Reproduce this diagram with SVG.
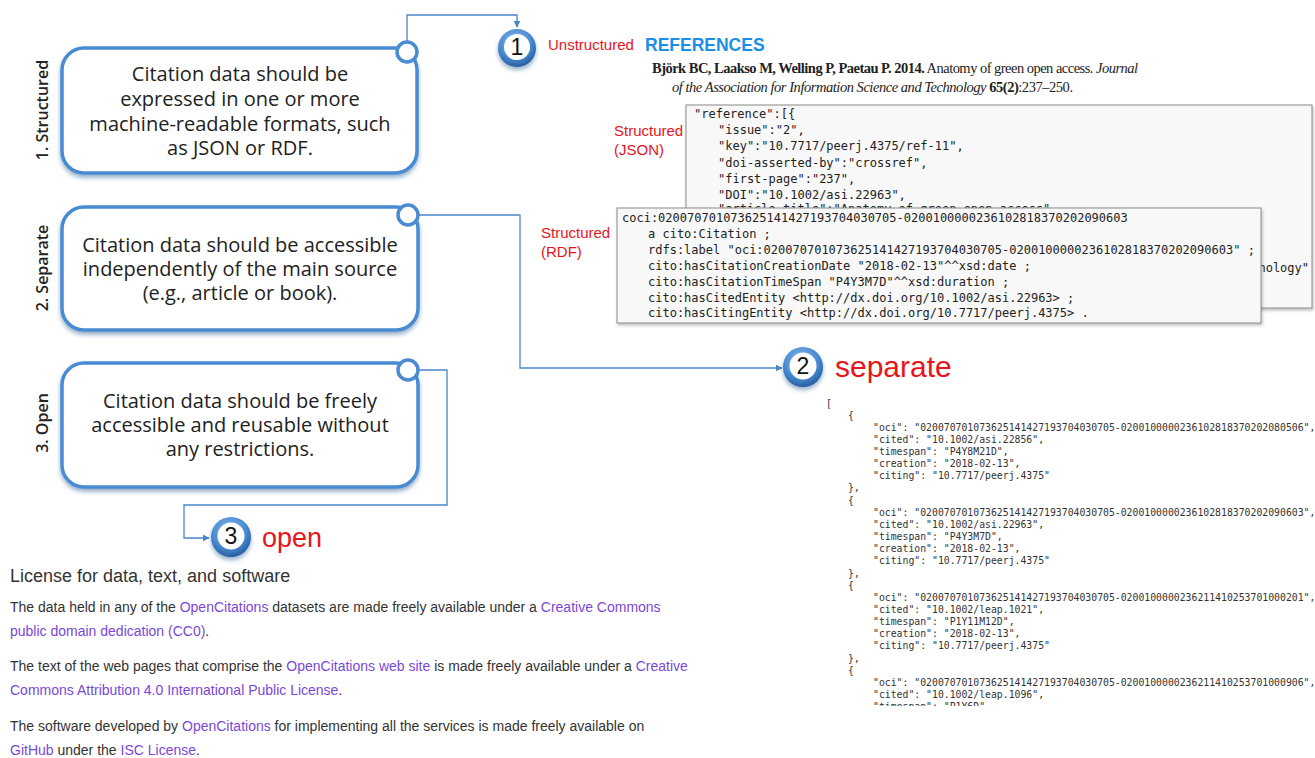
<svg xmlns="http://www.w3.org/2000/svg" width="1315" height="758" viewBox="0 0 1315 758">
<style>
.box{fill:#ffffff;stroke:#4a8bd2;stroke-width:3.5;filter:url(#sh)}
.knob{fill:#ffffff;stroke:#4a8bd2;stroke-width:3.5}
.bt{font-family:"Open Sans","Liberation Sans",sans-serif;font-size:20px;fill:#222;text-anchor:middle}
.side{font-family:"Open Sans","Liberation Sans",sans-serif;font-size:16px;font-weight:600;fill:#222;text-anchor:middle}
.con{fill:none;stroke:#4a86c8;stroke-width:1.3}
.num{font-family:"Liberation Sans",Arial,sans-serif;font-size:23px;fill:#111;text-anchor:middle}
.red{font-family:"Liberation Sans",Arial,sans-serif;fill:#e8141c}
.code{font-family:"DejaVu Sans Mono",monospace;font-size:12px;fill:#222}
.list{font-family:"DejaVu Sans Mono",monospace;font-size:9.8px;fill:#333}
.panel{fill:#f8f8f8;stroke:#8a8a8a;stroke-width:1;filter:url(#sh2)}
.p{font-family:"Liberation Sans",Arial,sans-serif;font-size:14px;fill:#333}
.lk{fill:#7a48d8}
.ser{font-family:"Liberation Serif","Times New Roman",serif;font-size:14.5px;fill:#222}
</style>
<defs>
<filter id="sh" x="-10%" y="-10%" width="120%" height="130%">
<feDropShadow dx="0" dy="3" stdDeviation="2" flood-color="#1f4f8a" flood-opacity="0.45"/>
</filter>
<filter id="sh2" x="-5%" y="-5%" width="110%" height="115%">
<feDropShadow dx="1" dy="2" stdDeviation="1.5" flood-color="#000" flood-opacity="0.25"/>
</filter>
<radialGradient id="ring" cx="0.45" cy="0.35" r="0.7">
<stop offset="0" stop-color="#8cbdf0"/>
<stop offset="0.6" stop-color="#4a8bd2"/>
<stop offset="1" stop-color="#1f5596"/>
</radialGradient>
<marker id="arr" viewBox="0 0 10 10" refX="9" refY="5" markerWidth="7" markerHeight="7" orient="auto" markerUnits="userSpaceOnUse">
<path d="M0,0 L10,5 L0,10 z" fill="#4a86c8"/>
</marker>
<clipPath id="listclip"><rect x="820" y="390" width="495" height="316"/></clipPath>
<clipPath id="titleclip"><rect x="686" y="100" width="626" height="108"/></clipPath>
</defs>

<g id="connectors">
<path class="con" d="M407,42 V15 H517 V27" marker-end="url(#arr)"/>
<path class="con" d="M418,215 H520 V368 H782" marker-end="url(#arr)"/>
<path class="con" d="M418,370 H447 V505 H184 V538 H209" marker-end="url(#arr)"/>
</g>

<g id="node-structured">
<rect class="box" x="62" y="48" width="355" height="125" rx="22"/>
<circle class="knob" cx="407" cy="52" r="10"/>
<text class="bt" x="240" y="81">Citation data should be</text>
<text class="bt" x="240" y="106">expressed in one or more</text>
<text class="bt" x="240" y="131">machine-readable formats, such</text>
<text class="bt" x="240" y="155">as JSON or RDF.</text>
<text class="side" transform="translate(42,110) rotate(-90)" dominant-baseline="central">1. Structured</text>
</g>

<g id="node-separate">
<rect class="box" x="62" y="207" width="356" height="123" rx="22"/>
<circle class="knob" cx="408" cy="215" r="10"/>
<text class="bt" x="240" y="252">Citation data should be accessible</text>
<text class="bt" x="240" y="276">independently of the main source</text>
<text class="bt" x="240" y="300">(e.g., article or book).</text>
<text class="side" transform="translate(42,268) rotate(-90)" dominant-baseline="central">2. Separate</text>
</g>

<g id="node-open">
<rect class="box" x="62" y="363" width="356" height="124" rx="22"/>
<circle class="knob" cx="408" cy="370" r="10"/>
<text class="bt" x="240" y="408">Citation data should be freely</text>
<text class="bt" x="240" y="432">accessible and reusable without</text>
<text class="bt" x="240" y="456">any restrictions.</text>
<text class="side" transform="translate(42,423) rotate(-90)" dominant-baseline="central">3. Open</text>
</g>

<g id="marker-1">
<circle cx="517" cy="48" r="19" fill="url(#ring)" filter="url(#sh)"/>
<circle cx="517" cy="47" r="13" fill="#fff"/>
<text class="num" x="517" y="55">1</text>
</g>

<g id="references">
<text class="red" x="548" y="50" font-size="15">Unstructured</text>
<text x="645" y="51" font-family="Liberation Sans,Arial,sans-serif" font-size="17.5" font-weight="bold" fill="#1a8fe8">REFERENCES</text>
<text class="ser" x="652" y="73" textLength="486" lengthAdjust="spacing"><tspan font-weight="bold">Björk BC, Laakso M, Welling P, Paetau P. 2014.</tspan> Anatomy of green open access. <tspan font-style="italic">Journal</tspan></text>
<text class="ser" x="672" y="92" textLength="401" lengthAdjust="spacing"><tspan font-style="italic">of the Association for Information Science and Technology</tspan> <tspan font-weight="bold">65(2)</tspan>:237–250.</text>
</g>

<g id="json-panel">
<text class="red" x="614" y="136" font-size="15">Structured</text>
<text class="red" x="614" y="155" font-size="15">(JSON)</text>
<rect class="panel" x="686" y="105" width="626" height="203"/>
<text class="code" x="694" y="118">"reference":[{</text>
<text class="code" x="718" y="134">"issue":"2",</text>
<text class="code" x="718" y="150">"key":"10.7717/peerj.4375/ref-11",</text>
<text class="code" x="718" y="167">"doi-asserted-by":"crossref",</text>
<text class="code" x="718" y="183">"first-page":"237",</text>
<text class="code" x="718" y="199">"DOI":"10.1002/asi.22963",</text>
<text class="code" x="718" y="213" clip-path="url(#titleclip)">"article-title":"Anatomy of green open access",</text>
<text class="code" x="1309" y="272" text-anchor="end">hnology"</text>
</g>

<g id="rdf-panel">
<text class="red" x="541" y="238" font-size="15">Structured</text>
<text class="red" x="541" y="257" font-size="15">(RDF)</text>
<rect class="panel" x="617" y="208" width="644" height="115"/>
<text class="code" x="622" y="222">coci:020070701073625141427193704030705-0200100000236102818370202090603</text>
<text class="code" x="648" y="238">a cito:Citation ;</text>
<text class="code" x="648" y="254">rdfs:label "oci:020070701073625141427193704030705-0200100000236102818370202090603" ;</text>
<text class="code" x="648" y="270">cito:hasCitationCreationDate "2018-02-13"^^xsd:date ;</text>
<text class="code" x="648" y="286">cito:hasCitationTimeSpan "P4Y3M7D"^^xsd:duration ;</text>
<text class="code" x="648" y="302">cito:hasCitedEntity &lt;http://dx.doi.org/10.1002/asi.22963&gt; ;</text>
<text class="code" x="648" y="317">cito:hasCitingEntity &lt;http://dx.doi.org/10.7717/peerj.4375&gt; .</text>
</g>

<g id="marker-2">
<circle cx="803" cy="367" r="20" fill="url(#ring)" filter="url(#sh)"/>
<circle cx="803" cy="366" r="13.5" fill="#fff"/>
<text class="num" x="803" y="374">2</text>
<text class="red" x="835" y="377" font-size="30">separate</text>
</g>

<g id="json-list" clip-path="url(#listclip)">
<text class="list" x="826" y="407">[</text>
<text class="list" x="848" y="419">{</text>
<text class="list" x="873" y="431">"oci": "020070701073625141427193704030705-0200100000236102818370202080506",</text>
<text class="list" x="873" y="443">"cited": "10.1002/asi.22856",</text>
<text class="list" x="873" y="455">"timespan": "P4Y8M21D",</text>
<text class="list" x="873" y="467">"creation": "2018-02-13",</text>
<text class="list" x="873" y="479">"citing": "10.7717/peerj.4375"</text>
<text class="list" x="848" y="491">},</text>
<text class="list" x="848" y="504">{</text>
<text class="list" x="873" y="516">"oci": "020070701073625141427193704030705-0200100000236102818370202090603",</text>
<text class="list" x="873" y="528">"cited": "10.1002/asi.22963",</text>
<text class="list" x="873" y="540">"timespan": "P4Y3M7D",</text>
<text class="list" x="873" y="552">"creation": "2018-02-13",</text>
<text class="list" x="873" y="564">"citing": "10.7717/peerj.4375"</text>
<text class="list" x="848" y="577">},</text>
<text class="list" x="848" y="589">{</text>
<text class="list" x="873" y="601">"oci": "020070701073625141427193704030705-0200100000236211410253701000201",</text>
<text class="list" x="873" y="613">"cited": "10.1002/leap.1021",</text>
<text class="list" x="873" y="625">"timespan": "P1Y11M12D",</text>
<text class="list" x="873" y="637">"creation": "2018-02-13",</text>
<text class="list" x="873" y="649">"citing": "10.7717/peerj.4375"</text>
<text class="list" x="848" y="662">},</text>
<text class="list" x="848" y="674">{</text>
<text class="list" x="873" y="686">"oci": "020070701073625141427193704030705-0200100000236211410253701000906",</text>
<text class="list" x="873" y="698">"cited": "10.1002/leap.1096",</text>
<text class="list" x="873" y="710">"timespan": "P1Y6D",</text>
</g>

<g id="marker-3">
<circle cx="231" cy="537" r="20" fill="url(#ring)" filter="url(#sh)"/>
<circle cx="231" cy="536" r="13.5" fill="#fff"/>
<text class="num" x="231" y="544">3</text>
<text class="red" x="262" y="547" font-size="27">open</text>
</g>

<g id="license">
<text x="10" y="582" font-family="Liberation Sans,Arial,sans-serif" font-size="18" fill="#333">License for data, text, and software</text>
<text class="p" x="10" y="612">The data held in any of the <tspan class="lk">OpenCitations</tspan> datasets are made freely available under a <tspan class="lk">Creative Commons</tspan></text>
<text class="p" x="10" y="636"><tspan class="lk">public domain dedication (CC0)</tspan>.</text>
<text class="p" x="10" y="671">The text of the web pages that comprise the <tspan class="lk">OpenCitations web site</tspan> is made freely available under a <tspan class="lk">Creative</tspan></text>
<text class="p" x="10" y="695"><tspan class="lk">Commons Attribution 4.0 International Public License</tspan>.</text>
<text class="p" x="10" y="731">The software developed by <tspan class="lk">OpenCitations</tspan> for implementing all the services is made freely available on</text>
<text class="p" x="10" y="755"><tspan class="lk">GitHub</tspan> under the <tspan class="lk">ISC License</tspan>.</text>
</g>
</svg>
